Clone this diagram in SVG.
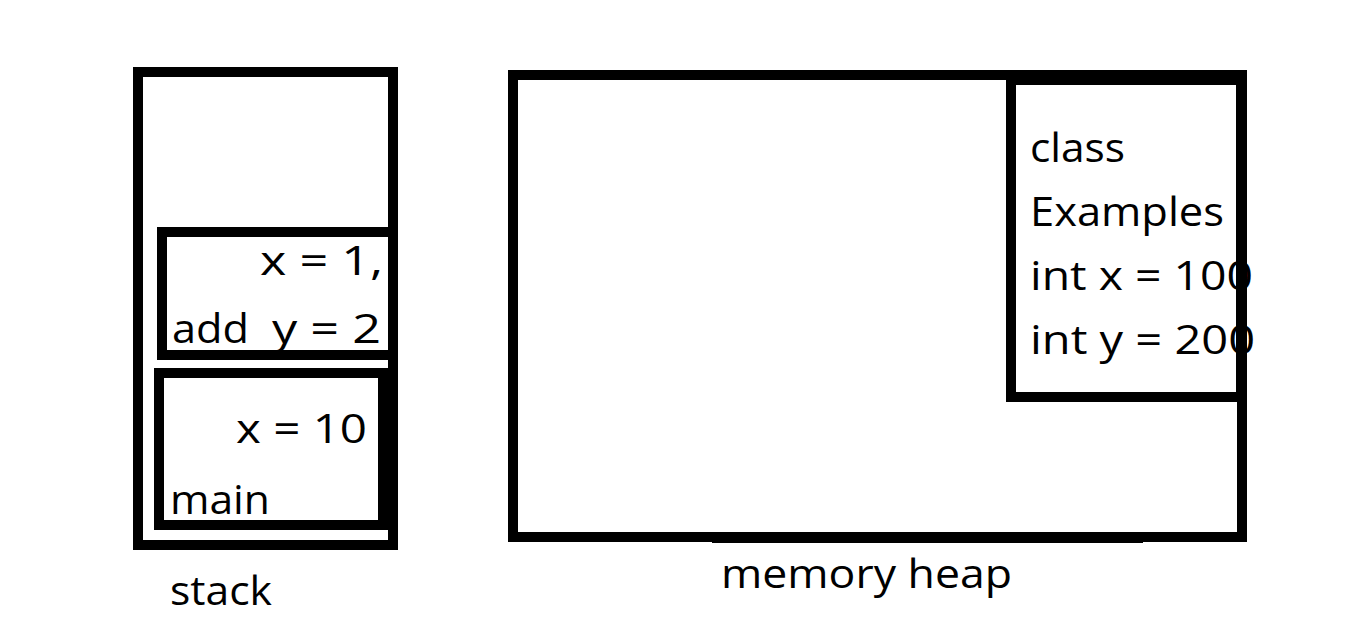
<svg xmlns="http://www.w3.org/2000/svg" width="1350" height="619" viewBox="0 0 1350 619">
<style>
.box{fill:none;stroke:#000;stroke-width:10}
text{font-family:"Open Sans","Noto Sans",sans-serif;font-size:40px;fill:#000}
</style>
<rect width="1350" height="619" fill="#fff"/>
<g id="stack">
<rect class="box" x="138" y="72" width="255" height="473"/>
<text x="170" y="605" textLength="102" lengthAdjust="spacingAndGlyphs">stack</text>
</g>
<g id="add">
<text x="260" y="275" textLength="123" lengthAdjust="spacingAndGlyphs">x = 1,</text>
<text x="172" y="343" textLength="77" lengthAdjust="spacingAndGlyphs">add</text>
<text x="272" y="343" textLength="109" lengthAdjust="spacingAndGlyphs">y = 2</text>
<rect class="box" x="162" y="232" width="231" height="123"/>
</g>
<g id="main">
<text x="236" y="443" textLength="131" lengthAdjust="spacingAndGlyphs">x = 10</text>
<text x="170" y="514" textLength="100" lengthAdjust="spacingAndGlyphs">main</text>
<rect class="box" x="159" y="373" width="224" height="152"/>
</g>
<g id="heap">
<rect class="box" x="513" y="75" width="729" height="462"/>
<line class="box" x1="712" y1="538" x2="1143" y2="538"/>
<text x="721" y="588" textLength="291" lengthAdjust="spacingAndGlyphs">memory heap</text>
</g>
<g id="class-examples">
<text x="1030" y="162" textLength="95" lengthAdjust="spacingAndGlyphs">class</text>
<text x="1030" y="226" textLength="194" lengthAdjust="spacingAndGlyphs">Examples</text>
<text x="1030" y="290" textLength="223" lengthAdjust="spacingAndGlyphs">int x = 100</text>
<text x="1030" y="354" textLength="225" lengthAdjust="spacingAndGlyphs">int y = 200</text>
<rect class="box" x="1011" y="80" width="230" height="317"/>
</g>
<g id="connectors"></g>
</svg>
